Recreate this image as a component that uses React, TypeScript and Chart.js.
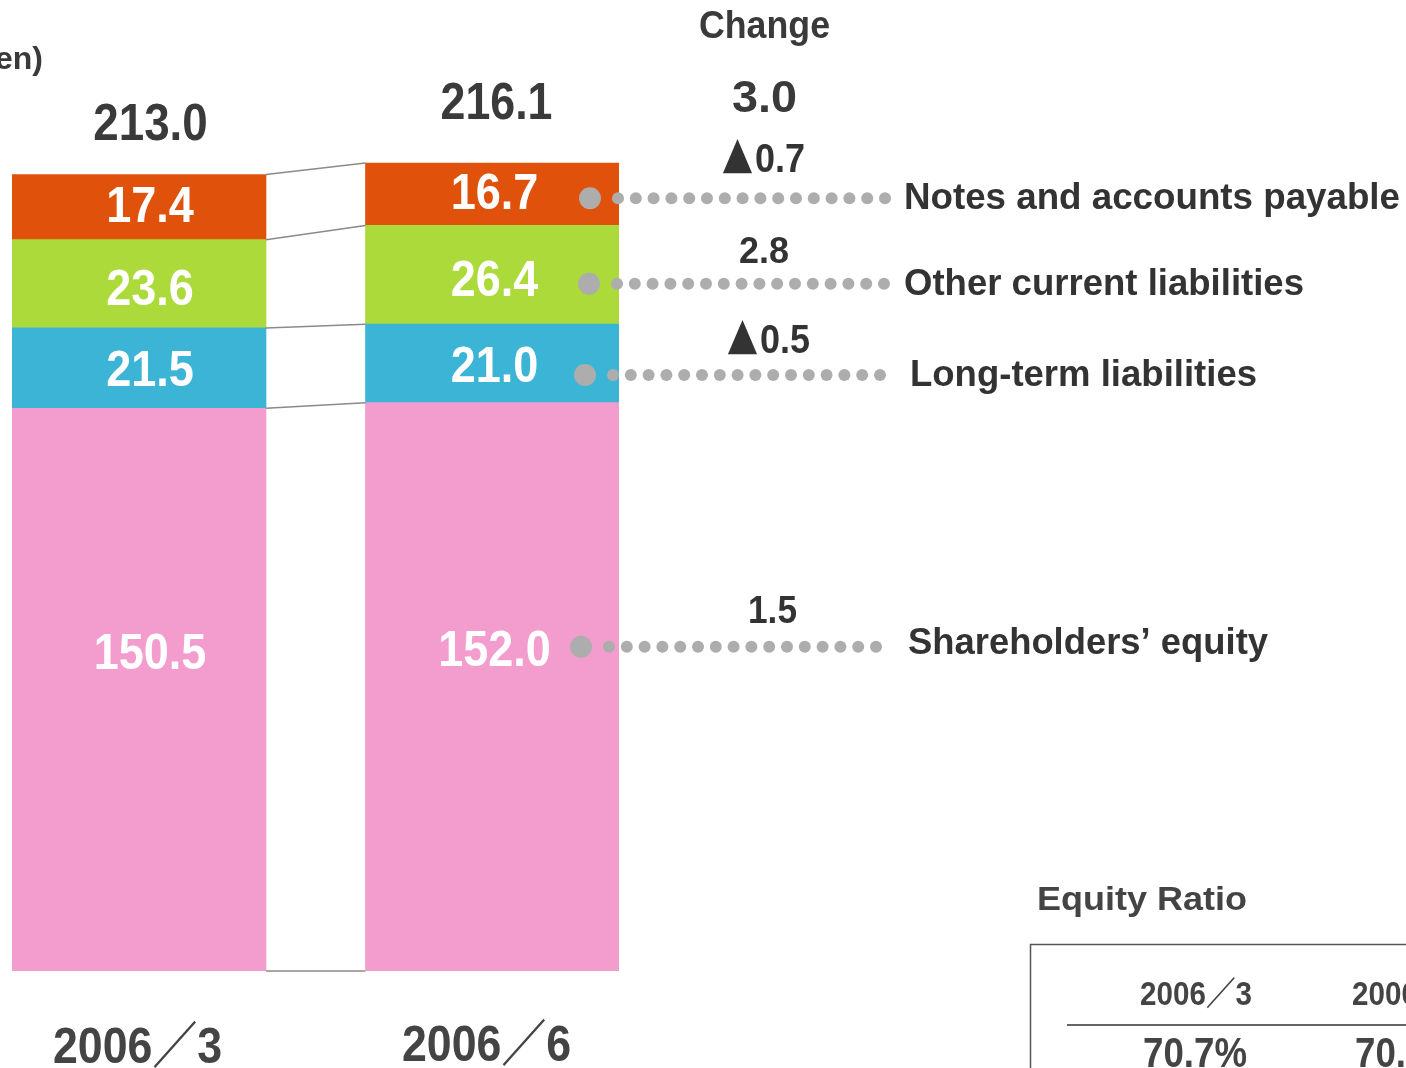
import React, { useEffect, useRef } from "react";
import { Chart, registerables } from "chart.js";

Chart.register(...registerables);

// ---------- data ----------
const categories = ["2006／3", "2006／6"];
const seriesNames = [
  "Shareholders’ equity",
  "Long-term liabilities",
  "Other current liabilities",
  "Notes and accounts payable",
];
const equity = [150.5, 152.0];
const longTerm = [21.5, 21.0];
const otherCurrent = [23.6, 26.4];
const notesPayable = [17.4, 16.7];
const totals = [213.0, 216.1];
const changes = [1.5, -0.5, 2.8, -0.7]; // same order as seriesNames
const totalChange = 3.0;
const ratioPeriods = ["2006／3", "2006／6"];
const equityRatios = [70.7, 70.3];
const seriesColors = ["#F39DCF", "#3CB4D6", "#ACDA3B", "#E0520B"];
const unitLabel = "(Billion yen)";
const changeTitle = "Change";
const ratioTitle = "Equity Ratio";

const seriesValues = [equity, longTerm, otherCurrent, notesPayable];

const FONT = '"Liberation Sans", Arial, "DejaVu Sans", "Noto Sans CJK JP", sans-serif';
const CJK = '"Noto Sans CJK JP", "DejaVu Sans", sans-serif';
const DARK = "#3a3a3a";
const CAP = 0.729;

function fitText(ctx: CanvasRenderingContext2D, text: string, left: number, right: number, cy: number, size: number, color: string, family: string = FONT) {
  ctx.save();
  ctx.font = `bold ${size}px ${family}`;
  const w = ctx.measureText(text).width;
  ctx.translate(left, cy + (size * CAP) / 2);
  ctx.scale((right - left) / w, 1);
  ctx.fillStyle = color;
  ctx.textAlign = "left";
  ctx.textBaseline = "alphabetic";
  ctx.fillText(text, 0, 0);
  ctx.restore();
}

function centerText(ctx: CanvasRenderingContext2D, text: string, cx: number, cy: number, size: number, sx: number, color: string) {
  ctx.save();
  ctx.font = `bold ${size}px ${FONT}`;
  ctx.translate(cx, cy + (size * CAP) / 2);
  ctx.scale(sx, 1);
  ctx.fillStyle = color;
  ctx.textAlign = "center";
  ctx.textBaseline = "alphabetic";
  ctx.fillText(text, 0, 0);
  ctx.restore();
}

function drawChange(ctx: CanvasRenderingContext2D, v: number, left: number, right: number, cy: number, size: number, color: string) {
  const num = Math.abs(v).toFixed(1);
  if (v < 0) {
    // "▲" marks a decrease
    ctx.save();
    ctx.font = `bold ${size}px ${CJK}`;
    ctx.fillStyle = color;
    ctx.textAlign = "left";
    ctx.textBaseline = "middle";
    const tw = ctx.measureText("▲").width;
    ctx.translate(left, cy);
    ctx.scale(31 / tw, 1.05);
    ctx.fillText("▲", 0, 0);
    ctx.restore();
    fitText(ctx, num, left + 33, right, cy, size, color);
  } else {
    fitText(ctx, num, left, right, cy, size, color);
  }
}

const annotationPlugin = {
  id: "annotations",
  afterDatasetsDraw(chart: any) {
    const ctx: CanvasRenderingContext2D = chart.ctx;
    const metas = seriesValues.map((_, d) => chart.getDatasetMeta(d));
    const el = (d: number, i: number) => metas[d].data[i] as any;

    // connector lines between the bars
    ctx.save();
    ctx.strokeStyle = "#8a8a8a";
    ctx.lineWidth = 1.5;
    const levels: [number, number][] = [[el(0, 0).base, el(0, 1).base]];
    for (let d = 0; d < seriesValues.length; d++) levels.push([el(d, 0).y, el(d, 1).y]);
    const x1 = el(0, 0).x + el(0, 0).width / 2;
    const x2 = el(0, 1).x - el(0, 1).width / 2;
    levels.forEach(([ya, yb]) => {
      ctx.beginPath();
      ctx.moveTo(x1, ya);
      ctx.lineTo(x2, yb);
      ctx.stroke();
    });
    ctx.restore();

    // values inside bars
    const labelDx = [11, 2];
    const labelDy = [-39, 0, 3, -3];
    const sx = [0.9, 0.9];
    for (let i = 0; i < categories.length; i++) {
      for (let d = 0; d < seriesValues.length; d++) {
        const e = el(d, i);
        const cy = (e.y + e.base) / 2 + labelDy[d];
        centerText(ctx, seriesValues[d][i].toFixed(1), e.x + labelDx[i], cy, 50, sx[i], "#ffffff");
      }
    }

    // totals above bars
    const totalDy = [54, 63];
    const totalSx = [0.88, 0.86];
    const totalDx = [11.5, 4];
    for (let i = 0; i < categories.length; i++) {
      const top = el(seriesValues.length - 1, i);
      centerText(ctx, totals[i].toFixed(1), top.x + totalDx[i], top.y - totalDy[i], 52, totalSx[i], DARK);
    }

    // category labels under bars
    const catDx = [-1.5, -6];
    const catDy = [74, 72];
    for (let i = 0; i < categories.length; i++) {
      const b = el(0, i);
      const cx = b.x + catDx[i];
      fitText(ctx, categories[i], cx - 84.5, cx + 84.5, b.base + catDy[i], 50, "#444444");
    }

    // unit label
    ctx.save();
    ctx.font = `bold 32px ${FONT}`;
    ctx.fillStyle = DARK;
    ctx.textAlign = "right";
    ctx.textBaseline = "alphabetic";
    ctx.fillText(unitLabel, 43, 69);
    ctx.restore();

    // change column header
    fitText(ctx, changeTitle, 699, 830, 24, 38, DARK);
    fitText(ctx, totalChange.toFixed(1), 732, 797, 96, 44, DARK);

    // rows, top to bottom: notes, other, long-term, equity
    const rowSeries = [3, 2, 1, 0];
    const rowDotDy = [4, 9, 11.5, -40];
    const bigDotX = [590, 589, 585, 581];
    const smallDotX0 = [618, 617, 613, 609];
    const nameLR = [[904, 1400], [904, 1304], [910, 1257], [908, 1268]];
    const nameDy = [-3, -2, -2, -6];
    const chgLR = [[722, 805], [739, 789], [727, 810], [748, 797]];
    const chgDy = [-40.5, -34, -36, -38];
    const chgSize = [40, 36, 40, 38];
    rowSeries.forEach((d, r) => {
      const e = el(d, 1);
      const y = (e.y + e.base) / 2 + rowDotDy[r];
      ctx.save();
      ctx.fillStyle = "#ADADAD";
      ctx.beginPath();
      ctx.arc(bigDotX[r], y, 11, 0, Math.PI * 2);
      ctx.fill();
      for (let k = 0; k < 16; k++) {
        ctx.beginPath();
        ctx.arc(smallDotX0[r] + k * 17.8, y, 6, 0, Math.PI * 2);
        ctx.fill();
      }
      ctx.restore();
      fitText(ctx, seriesNames[d], nameLR[r][0], nameLR[r][1], y + nameDy[r], 37, "#333333");
      drawChange(ctx, changes[d], chgLR[r][0], chgLR[r][1], y + chgDy[r], chgSize[r], "#333333");
    });

    // equity ratio table
    fitText(ctx, ratioTitle, 1037, 1247, 898, 34, "#444444");
    ctx.save();
    ctx.strokeStyle = "#555555";
    ctx.lineWidth = 1.5;
    ctx.beginPath();
    ctx.moveTo(1030.5, 1068);
    ctx.lineTo(1030.5, 944.5);
    ctx.lineTo(1406, 944.5);
    ctx.stroke();
    ctx.strokeStyle = "#333333";
    ctx.beginPath();
    ctx.moveTo(1067, 1025);
    ctx.lineTo(1406, 1025);
    ctx.stroke();
    ctx.restore();
    const colLeft = [1140, 1352];
    for (let c = 0; c < ratioPeriods.length; c++) {
      fitText(ctx, ratioPeriods[c], colLeft[c], colLeft[c] + 112, 993, 33, "#444444");
      fitText(ctx, equityRatios[c].toFixed(1) + "%", colLeft[c] + 3, colLeft[c] + 107, 1052, 42, "#444444");
    }
  },
};

export default function App() {
  const ref = useRef<HTMLCanvasElement | null>(null);
  useEffect(() => {
    if (!ref.current) return;
    const chart = new Chart(ref.current, {
      type: "bar",
      data: {
        datasets: seriesValues.map((vals, d) => ({
          label: seriesNames[d],
          data: vals.map((v, i) => ({ x: i, y: v })),
          backgroundColor: seriesColors[d],
          borderWidth: 0,
          barThickness: 254,
        })),
      },
      options: {
        animation: false,
        responsive: false,
        devicePixelRatio: 1,
        layout: { padding: { left: 12, right: 787, top: 36.25, bottom: 97 } },
        scales: {
          x: { type: "linear", min: -0.3593, max: 1.3579, stacked: true, offset: false, display: false },
          y: { min: 0, max: 250, stacked: true, display: false },
        },
        plugins: { legend: { display: false }, tooltip: { enabled: false } },
      } as any,
      plugins: [annotationPlugin],
    } as any);
    return () => chart.destroy();
  }, []);
  return (
    <div style={{ position: "fixed", left: 0, top: 0, width: 1406, height: 1068, background: "#ffffff", overflow: "hidden" }}>
      <canvas ref={ref} width={1406} height={1068} style={{ display: "block" }} />
    </div>
  );
}
